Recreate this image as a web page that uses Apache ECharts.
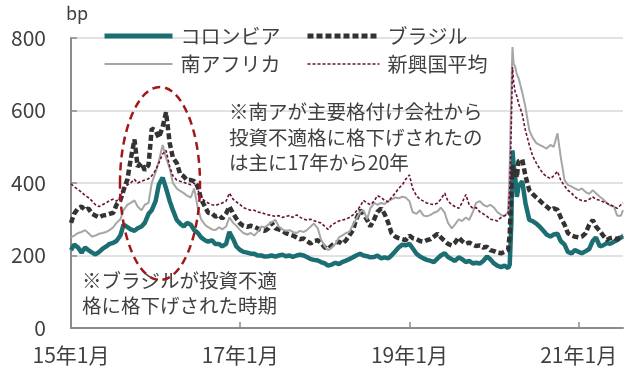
<!DOCTYPE html>
<html><head><meta charset="utf-8">
<script src="https://cdn.jsdelivr.net/npm/echarts@6/dist/echarts.min.js"></script>
<style>html,body{margin:0;padding:0;background:#fff}#c{width:640px;height:380px}</style>
</head><body><div id="c"></div>
<script>
const dates = [
'2015-01-01','2015-01-15','2015-02-01','2015-02-15','2015-03-01','2015-03-15','2015-04-01','2015-04-15','2015-05-01','2015-05-15','2015-06-01','2015-06-15','2015-07-01','2015-07-15','2015-08-01','2015-08-15','2015-09-01','2015-09-15','2015-10-01','2015-10-15','2015-11-01','2015-11-15','2015-12-01','2015-12-15',
'2016-01-01','2016-01-15','2016-02-01','2016-02-15','2016-03-01','2016-03-15','2016-04-01','2016-04-15','2016-05-01','2016-05-15','2016-06-01','2016-06-15','2016-07-01','2016-07-15','2016-08-01','2016-08-15','2016-09-01','2016-09-15','2016-10-01','2016-10-15','2016-11-01','2016-11-15','2016-12-01','2016-12-15',
'2017-01-01','2017-01-15','2017-02-01','2017-02-15','2017-03-01','2017-03-15','2017-04-01','2017-04-15','2017-05-01','2017-05-15','2017-06-01','2017-06-15','2017-07-01','2017-07-15','2017-08-01','2017-08-15','2017-09-01','2017-09-15','2017-10-01','2017-10-15','2017-11-01','2017-11-15','2017-12-01','2017-12-15',
'2018-01-01','2018-01-15','2018-02-01','2018-02-15','2018-03-01','2018-03-15','2018-04-01','2018-04-15','2018-05-01','2018-05-15','2018-06-01','2018-06-15','2018-07-01','2018-07-15','2018-08-01','2018-08-15','2018-09-01','2018-09-15','2018-10-01','2018-10-15','2018-11-01','2018-11-15','2018-12-01','2018-12-15',
'2019-01-01','2019-01-15','2019-02-01','2019-02-15','2019-03-01','2019-03-15','2019-04-01','2019-04-15','2019-05-01','2019-05-15','2019-06-01','2019-06-15','2019-07-01','2019-07-15','2019-08-01','2019-08-15','2019-09-01','2019-09-15','2019-10-01','2019-10-15','2019-11-01','2019-11-15','2019-12-01','2019-12-15',
'2020-01-01','2020-01-15','2020-02-01','2020-02-15','2020-03-01','2020-03-08','2020-03-15','2020-03-20','2020-03-25','2020-04-01','2020-04-08','2020-04-15','2020-05-01','2020-05-15','2020-06-01','2020-06-15','2020-07-01','2020-07-15','2020-08-01','2020-08-15','2020-09-01','2020-09-15','2020-10-01','2020-10-15','2020-11-01','2020-11-15','2020-12-01','2020-12-15',
'2021-01-01','2021-01-15','2021-02-01','2021-02-15','2021-03-01','2021-03-15','2021-04-01','2021-04-15','2021-05-01','2021-05-15','2021-06-01','2021-06-15','2021-07-01','2021-07-10'
];
const colombia = [
215,230,222,208,222,215,208,203,210,218,225,232,235,240,255,285,278,272,268,275,280,290,315,325,
350,395,415,385,350,325,298,288,280,290,285,270,262,250,242,238,242,232,232,225,232,265,245,225,
215,210,208,205,205,200,200,197,198,200,197,200,202,198,200,196,200,202,200,196,190,188,186,182,
178,172,175,180,176,182,186,190,195,200,205,200,198,195,196,200,192,195,192,200,212,222,230,228,
232,220,205,197,192,188,185,182,192,200,206,196,190,185,195,190,182,185,178,180,178,185,197,190,
178,172,168,172,165,175,290,490,450,417,362,390,405,345,298,295,288,280,268,258,252,258,260,240,230,210,206,215,
210,206,212,218,240,250,225,228,234,232,238,242,250,252
];
const brazil = [
290,315,330,335,325,330,315,310,305,310,312,315,318,340,352,380,410,465,520,445,455,435,450,550,
545,525,555,595,510,470,455,425,418,408,408,405,390,355,335,318,316,307,311,302,316,335,316,302,
288,282,279,282,279,275,271,268,275,290,275,272,268,262,258,255,250,245,247,240,233,240,242,235,
222,218,228,235,238,232,242,255,270,300,325,315,298,280,300,320,330,315,290,262,252,248,245,242,
255,248,245,240,238,242,245,252,260,250,240,232,228,235,250,240,232,236,230,226,228,222,224,215,
212,208,206,210,215,260,380,450,420,440,415,460,465,420,380,370,360,352,342,335,326,330,326,305,285,262,255,252,
250,252,262,285,298,280,268,255,243,248,250,245,252,255
];
const southAfrica = [
250,255,262,265,270,262,252,255,260,262,265,270,278,290,300,325,340,345,352,335,325,340,345,400,
430,460,505,470,440,400,385,378,372,365,360,385,330,300,285,278,272,270,278,272,280,305,290,282,
270,262,258,262,255,265,280,278,285,292,298,280,272,268,270,265,262,268,265,270,280,288,275,245,
225,215,222,232,250,255,262,265,285,300,320,325,300,330,345,340,345,342,350,355,360,358,362,360,
350,320,315,325,310,308,312,318,322,332,318,290,275,285,300,295,305,298,320,345,350,340,335,340,
332,320,312,308,320,450,650,775,730,720,700,690,650,610,545,525,510,505,500,495,505,500,537,473,408,395,390,385,
380,385,375,370,380,372,362,355,345,338,335,310,310,325
];
const emAverage = [
398,390,382,375,365,360,350,340,335,340,345,352,355,350,362,385,395,400,410,400,405,408,412,420,
435,455,480,490,445,420,408,405,402,398,395,400,380,360,350,345,340,338,342,345,350,372,355,348,
340,332,328,325,325,320,318,315,312,310,308,310,305,308,310,305,312,306,300,298,300,296,292,290,
280,272,285,290,295,298,300,305,312,322,335,352,345,340,350,365,360,352,348,360,372,385,395,410,
422,385,365,355,350,345,342,340,345,355,372,350,340,335,330,345,368,340,330,332,320,315,308,300,
298,295,305,310,315,380,560,720,680,650,640,620,590,545,505,475,455,440,425,418,412,420,432,408,392,380,372,362,
355,352,350,355,362,355,352,348,344,340,335,330,340,345
];
const seriesNames = ['コロンビア','ブラジル','南アフリカ','新興国平均'];
const yTicks = [0,200,400,600,800];
const xTickLabels = ['15年1月','17年1月','19年1月','21年1月'];
const xTickDates = ['2015-01-01','2017-01-01','2019-01-01','2021-01-01'];

function monthPos(s){
  const [y,m,d] = s.split('-').map(Number);
  const dim = new Date(y, m, 0).getDate();
  return (y-2015)*12 + (m-1) + (d-1)/dim;
}
const xs = dates.map(monthPos);
const pairs = arr => arr.map((v,i)=>[xs[i], v]);
const tickPos = xTickDates.map(monthPos);
const FONT = '"Noto Sans CJK JP", "Noto Sans", sans-serif';
const TXT = '#404040';

const styles = {
  colombia:{color:'#1b6e72', width:4.5, type:'solid'},
  brazil:{color:'#333333', width:4.5, type:[6,3]},
  southAfrica:{color:'#a6a6a6', width:2, type:'solid'},
  emAverage:{color:'#6b0f3c', width:1.6, type:[3,2]}
};

const chart = echarts.init(document.getElementById('c'), null, {renderer:'canvas'});
const lineCommon = {type:'line', symbol:'none', showSymbol:false, smooth:false, animation:false};
const legendCommon = {orient:'vertical', top:21, itemHeight:14, itemGap:8,
  itemStyle:{opacity:0, borderWidth:0},
  textStyle:{fontSize:20, color:TXT, fontFamily:FONT, padding:[0,0,0,3]}};
const legItem = (name, st, w) => ({name, lineStyle:{width:w, color:st.color, type:st.type}});
chart.setOption({
  animation:false,
  grid:{left:71, right:17, top:38, bottom:52},
  xAxis:{
    type:'value', min:0, max:xs[xs.length-1],
    axisLine:{show:true, lineStyle:{color:'#8c8c8c', width:2}},
    axisTick:{show:true, inside:true, length:6, customValues:tickPos, lineStyle:{color:'#8c8c8c', width:1.5}},
    axisLabel:{customValues:tickPos, margin:17, fontSize:21, color:TXT, fontFamily:FONT,
      formatter:v=>{const i=tickPos.findIndex(t=>Math.abs(t-v)<1e-6);return i>=0?xTickLabels[i]:'';}},
    splitLine:{show:false}
  },
  yAxis:{
    type:'value', min:yTicks[0], max:yTicks[yTicks.length-1], interval:200,
    axisLine:{show:true, lineStyle:{color:'#8c8c8c', width:2}},
    axisTick:{show:true, inside:true, length:6, lineStyle:{color:'#8c8c8c', width:1.5}},
    axisLabel:{margin:25, fontSize:21, color:TXT, fontFamily:FONT},
    splitLine:{show:true, lineStyle:{color:'#d9d9d9', width:1.5}}
  },
  legend:[
    Object.assign({}, legendCommon, {data:[legItem(seriesNames[0], styles.colombia, 5), legItem(seriesNames[2], styles.southAfrica, 2)], left:97, itemWidth:68}),
    Object.assign({}, legendCommon, {data:[legItem(seriesNames[1], styles.brazil, 5), legItem(seriesNames[3], styles.emAverage, 1.6)], left:300, itemWidth:72})
  ],
  series:[
    Object.assign({}, lineCommon, {name:seriesNames[0], data:pairs(colombia), z:2,
      lineStyle:styles.colombia, itemStyle:{color:styles.colombia.color}}),
    Object.assign({}, lineCommon, {name:seriesNames[1], data:pairs(brazil), z:3,
      lineStyle:styles.brazil, itemStyle:{color:styles.brazil.color}}),
    Object.assign({}, lineCommon, {name:seriesNames[2], data:pairs(southAfrica), z:4,
      lineStyle:styles.southAfrica, itemStyle:{color:styles.southAfrica.color}}),
    Object.assign({}, lineCommon, {name:seriesNames[3], data:pairs(emAverage), z:5,
      lineStyle:styles.emAverage, itemStyle:{color:styles.emAverage.color}})
  ],
  graphic:[
    {type:'text', left:66, top:4, style:{text:'bp', fontSize:18, fill:TXT, fontFamily:FONT}},
    {type:'text', x:229, y:112, style:{text:'※南アが主要格付け会社から', fontSize:19.5, fill:TXT, fontFamily:FONT, verticalAlign:'middle'}, z:10},
    {type:'text', x:229, y:138, style:{text:'投資不適格に格下げされたの', fontSize:19.5, fill:TXT, fontFamily:FONT, verticalAlign:'middle'}, z:10},
    {type:'text', x:229, y:163, style:{text:'は主に17年から20年', fontSize:19.5, fill:TXT, fontFamily:FONT, verticalAlign:'middle'}, z:10},
    {type:'text', x:82, y:281, style:{text:'※ブラジルが投資不適', fontSize:19.5, fill:TXT, fontFamily:FONT, verticalAlign:'middle'}, z:10},
    {type:'text', x:82, y:306, style:{text:'格に格下げされた時期', fontSize:19.5, fill:TXT, fontFamily:FONT, verticalAlign:'middle'}, z:10},
    {type:'ellipse', shape:{cx:160, cy:183.5, rx:40, ry:96.5}, style:{fill:'none', stroke:'#a01818', lineWidth:2.5, lineDash:[8,5]}, z:20}
  ]
});
</script></body></html>
